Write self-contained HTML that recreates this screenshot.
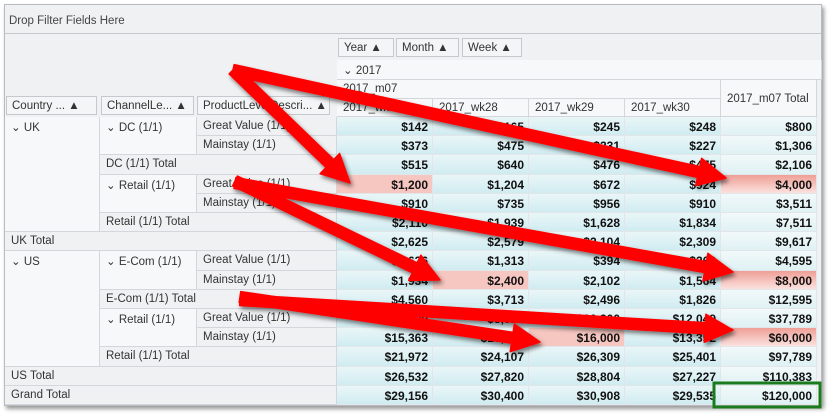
<!DOCTYPE html>
<html><head><meta charset="utf-8"><style>
body{margin:0;width:833px;height:420px;background:#fff;position:relative;overflow:hidden;font-family:"Liberation Sans",sans-serif;font-size:11.5px;color:#333}
.a{position:absolute;box-sizing:border-box}
.hdr{background:#f0f1f3;border-right:1px solid #d3d6da;border-bottom:1px solid #d3d6da;padding:3px 6px;white-space:nowrap;overflow:hidden}
.btn{background:#f4f5f7;border:1px solid #c5c9ce;padding:3px 5px;white-space:nowrap;overflow:hidden}
.cell{border-right:1px solid #e2e6e8;border-bottom:1px solid #e2e6e8;text-align:right;padding:3px 4px 0 0;font-weight:bold;color:#111;font-size:12px;background:linear-gradient(#eaf6f8,#d0ecf1)}
.tot{background:linear-gradient(#f2f9fa,#dff1f4)}
.hi{background:#f6c6c0}
.hit{background:linear-gradient(#ee9f96,#fbe1de)}
</style></head><body>
<div class="a" style="left:4px;top:4px;width:818px;height:402px;border:1px solid #b8bcc2;background:#f0f1f3;box-shadow:2px 3px 4px #999"></div>
<div class="a" style="left:5px;top:8px;width:816px;height:26px;border-bottom:1px solid #c5c9ce;padding:7px 4px;color:#444">Drop Filter Fields Here</div>
<div id="g"></div>
<svg class="a" style="left:0;top:0" width="833" height="420">
<defs><filter id="sh"><feDropShadow dx="2" dy="3" stdDeviation="2" flood-color="#000" flood-opacity="0.5"/></filter></defs>
<g id="arrows" filter="url(#sh)"></g>
<rect x="714" y="383" width="106" height="24" fill="none" stroke="#1b7a1b" stroke-width="3"/>
</svg>
<script>
const rowLabels=["Great Value (1/1)","Mainstay (1/1)","DC (1/1) Total","Great Value (1/1)","Mainstay (1/1)","Retail (1/1) Total","UK Total","Great Value (1/1)","Mainstay (1/1)","E-Com (1/1) Total","Great Value (1/1)","Mainstay (1/1)","Retail (1/1) Total","US Total","Grand Total"];
const colLabels=["2017_wk27","2017_wk28","2017_wk29","2017_wk30"];
const wk27=["$142","$373","$515","$1,200","$910","$2,110","$2,625","$2,626","$1,934","$4,560","$6,609","$15,363","$21,972","$26,532","$29,156"];
const wk28=["$165","$475","$640","$1,204","$735","$1,939","$2,579","$1,313","$2,400","$3,713","$8,822","$15,285","$24,107","$27,820","$30,400"];
const wk29=["$245","$231","$476","$672","$956","$1,628","$2,104","$394","$2,102","$2,496","$10,300","$16,000","$26,309","$28,804","$30,908"];
const wk30=["$248","$227","$475","$924","$910","$1,834","$2,309","$263","$1,564","$1,826","$12,049","$13,352","$25,401","$27,227","$29,535"];
const total=["$800","$1,306","$2,106","$4,000","$3,511","$7,511","$9,617","$4,595","$8,000","$12,595","$37,789","$60,000","$97,789","$110,383","$120,000"];
const highlights=[[3,0],[3,4],[8,1],[8,4],[11,2],[11,4]];
const g=document.getElementById('g');
function add(cls,x,y,w,h,txt,name,inter){const d=document.createElement('div');d.className='a '+cls;d.style.cssText=`left:${x}px;top:${y}px;width:${w}px;height:${h}px`;d.textContent=txt;


g.appendChild(d);return d;}
const R0=117,RH=19.2,CX=[337,433,529,625,721],CW=96;
add('btn',338,38,56,19,'Year ▲','year-field-button',true);
add('btn',396,38,63,19,'Month ▲','month-field-button',true);
add('btn',462,38,60,19,'Week ▲','week-field-button',true);
add('hdr',337,60,485,20,'⌄ 2017','year-2017-header',true).style.background='#f7f8f9';
add('hdr',337,80,384,19,'2017_m07','month-m07-header',false).style.background='#f7f8f9';
add('hdr',721,80,96,37,'2017_m07 Total','month-total-header',false).style.cssText+=';background:#f7f8f9;padding-top:13px';
colLabels.forEach((c,i)=>{const d=add('hdr',CX[i],99,CW,18,c,'week-header-'+c,false);d.style.background='#f7f8f9';});
add('btn',6,96,91,19,'Country ...  ▲','country-field-button',true);
add('btn',101,96,93,19,'ChannelLe...  ▲','channel-field-button',true);
add('btn',197,96,133,19,'ProductLevelDescri...  ▲','product-field-button',true);
const y=i=>R0+i*RH;
add('hdr',5,y(0),95,RH*6,'⌄  UK','row-uk',true).style.background='#f7f8f9';
add('hdr',100,y(0),97,RH*2,'⌄  DC (1/1)','row-dc',true).style.background='#f7f8f9';
add('hdr',100,y(3),97,RH*2,'⌄  Retail (1/1)','row-uk-retail',true).style.background='#f7f8f9';
add('hdr',5,y(7),95,RH*6,'⌄  US','row-us',true).style.background='#f7f8f9';
add('hdr',100,y(7),97,RH*2,'⌄  E-Com (1/1)','row-ecom',true).style.background='#f7f8f9';
add('hdr',100,y(10),97,RH*2,'⌄  Retail (1/1)','row-us-retail',true).style.background='#f7f8f9';
rowLabels.forEach((l,i)=>{let x=197,w=140;
 if([2,5,9,12].includes(i)){x=100;w=237;} if([6,13,14].includes(i)){x=5;w=332;}
 add('hdr',x,y(i),w,RH,l,'row-label-'+i,false);});
const series=[wk27,wk28,wk29,wk30,total];
series.forEach((s,c)=>s.forEach((v,r)=>{let cls='cell'+(c==4?' tot':'');
 if(highlights.some(h=>h[0]==r&&h[1]==c))cls+=(c==4?' hit':' hi');
 add(cls,CX[c],y(r),CW,RH,v,'cell-r'+r+'-c'+c,false);}));
const arrows=[[233,70,350,183],[233,70,726,178],[235,181,440,280],[235,183,733,272],[240,297,540,342],[240,300,733,330]];
const ag=document.getElementById('arrows');
arrows.forEach((a,i)=>{const[x1,y1,x2,y2]=a;const dx=x2-x1,dy=y2-y1,L=Math.hypot(dx,dy),ux=dx/L,uy=dy/L,px=-uy,py=ux;
 const hw=5.5,hh=14,hl=28;const bx=x2-ux*hl,by=y2-uy*hl;
 const pts=[[x1+px*hw,y1+py*hw],[bx+px*hw,by+py*hw],[bx+px*hh,by+py*hh],[x2,y2],[bx-px*hh,by-py*hh],[bx-px*hw,by-py*hw],[x1-px*hw,y1-py*hw]];
 const p=document.createElementNS('http://www.w3.org/2000/svg','polygon');p.setAttribute('points',pts.map(q=>q.join(',')).join(' '));p.setAttribute('fill','#f00');p.setAttribute('stroke','#f00');p.setAttribute('stroke-linejoin','round');p.setAttribute('stroke-width','1.5');
 
 
 ag.appendChild(p);});
</script>
</body></html>
